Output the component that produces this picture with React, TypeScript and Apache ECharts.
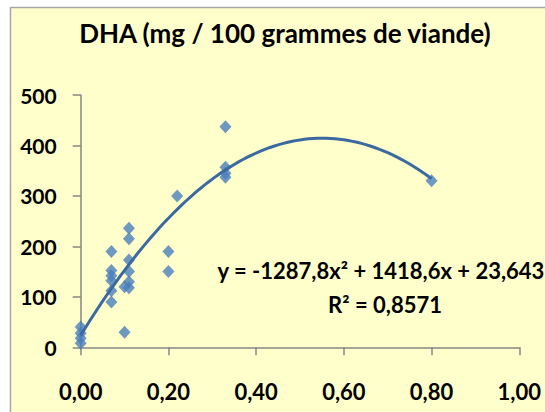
import React, { useEffect, useRef } from "react";
import * as echarts from "echarts";

const ratioX: number[] = [0, 0, 0, 0, 0.07, 0.07, 0.07, 0.07, 0.07, 0.07, 0.1, 0.1, 0.11, 0.11, 0.11, 0.11, 0.11, 0.11, 0.2, 0.2, 0.22, 0.33, 0.33, 0.33, 0.33, 0.8];
const dhaY: number[] = [40, 28, 18, 8, 190, 152, 142, 132, 112, 90, 120, 30, 236, 215, 173, 150, 130, 118, 190, 150, 300, 437, 357, 345, 337, 330];
const trendCoef: number[] = [-1287.8, 1418.6, 23.643];
const yTicks: number[] = [0, 100, 200, 300, 400, 500];
const titleText = "DHA (mg / 100 grammes de viande)";
const eqText = "y = -1287,8x\u00B2 + 1418,6x + 23,643";
const r2Text = "R\u00B2 = 0,8571";

const FONT = "Lato, 'Open Sans', sans-serif";

export default function App() {
  const ref = useRef<HTMLDivElement>(null);
  useEffect(() => {
    if (!ref.current) return;
    const chart = echarts.init(ref.current, undefined, { renderer: "svg" });
    const trend: number[][] = [];
    const xMaxData = Math.max(...ratioX);
    const steps = 80;
    for (let i = 0; i <= steps; i++) {
      const x = (xMaxData * i) / steps;
      trend.push([x, trendCoef[0] * x * x + trendCoef[1] * x + trendCoef[2]]);
    }
    const pts = ratioX.map((x, i) => [x, dhaY[i]]);
    chart.setOption({
      animation: false,
      backgroundColor: "#ffffff",
      title: {
        text: titleText,
        left: 280,
        top: 15,
        textAlign: "center",
        textStyle: { fontFamily: FONT, fontWeight: "bold", fontSize: 26, color: "#000" },
      },
      graphic: [
        {
          type: "rect",
          z: -10,
          silent: true,
          shape: { x: 10.5, y: 7.5, width: 600, height: 500 },
          style: { fill: "#ffffcc", stroke: "#a6a6a6", lineWidth: 1.5 },
        },
        {
          type: "text",
          x: 381,
          y: 270,
          style: {
            text: eqText,
            fontFamily: FONT,
            fontWeight: "bold",
            fontSize: 22,
            fill: "#000",
            align: "center",
            verticalAlign: "middle",
          },
        },
        {
          type: "text",
          x: 385,
          y: 304,
          style: {
            text: r2Text,
            fontFamily: FONT,
            fontWeight: "bold",
            fontSize: 22,
            fill: "#000",
            align: "center",
            verticalAlign: "middle",
          },
        },
      ],
      grid: { left: 80.7, top: 95, width: 438.6, height: 252.3, containLabel: false },
      xAxis: {
        type: "value",
        min: 0,
        max: 1,
        interval: 0.2,
        axisLine: { show: true, lineStyle: { color: "#868686", width: 1.5 } },
        axisTick: { show: true, inside: false, length: 8, lineStyle: { color: "#868686", width: 1.5 } },
        splitLine: { show: false },
        axisLabel: {
          margin: 33,
          fontFamily: FONT,
          fontWeight: "bold",
          fontSize: 22,
          color: "#000",
          formatter: (v: number) => v.toFixed(2).replace(".", ","),
        },
      },
      yAxis: {
        type: "value",
        min: 0,
        max: 500,
        interval: 100,
        axisLine: { show: true, lineStyle: { color: "#868686", width: 1.5 } },
        axisTick: { show: true, inside: false, length: 8, lineStyle: { color: "#868686", width: 1.5 } },
        splitLine: { show: false },
        axisLabel: {
          margin: 24,
          fontFamily: FONT,
          fontWeight: "bold",
          fontSize: 21,
          color: "#000",
          formatter: (v: number) => (yTicks.includes(v) ? String(v) : ""),
        },
      },
      series: [
        {
          type: "scatter",
          data: pts,
          symbol: "diamond",
          symbolSize: [12, 13],
          itemStyle: { color: "#4a7ebb" },
          z: 2,
        },
        {
          type: "line",
          data: trend,
          showSymbol: false,
          smooth: false,
          lineStyle: { color: "#3b6aa0", width: 3 },
          z: 3,
        },
      ],
    });
    return () => chart.dispose();
  }, []);
  return <div ref={ref} style={{ position: "absolute", left: 0, top: 0, width: 545, height: 412 }} />;
}
